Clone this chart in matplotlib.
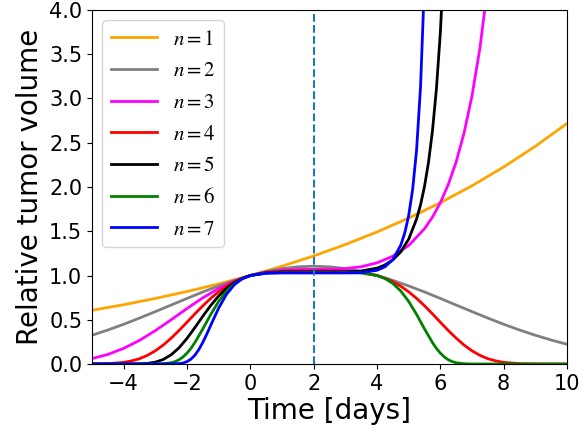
import matplotlib
matplotlib.use("Agg")
import matplotlib.pyplot as plt

plt.rcParams['mathtext.fontset'] = 'stix'

# ---- data ----
labels = ["$n=1$", "$n=2$", "$n=3$", "$n=4$", "$n=5$", "$n=6$", "$n=7$"]
colors = ["orange", "gray", "magenta", "red", "black", "green", "blue"]
x_ticks = [-4, -2, 0, 2, 4, 6, 8, 10]
y_ticks = [0.0, 0.5, 1.0, 1.5, 2.0, 2.5, 3.0, 3.5, 4.0]

t_n1 = [-5, -4, -3, -2, -1, 0, 1, 2, 3, 4, 5, 6, 7, 8, 9, 10]
v_n1 = [0.607, 0.670, 0.741, 0.819, 0.905, 1.000, 1.105, 1.221, 1.350, 1.492,
        1.649, 1.822, 2.014, 2.226, 2.460, 2.718]

t_n2 = [-5, -4.5, -4, -3.5, -3, -2.5, -2, -1.5, -1, -0.5, 0, 0.5, 1, 1.5, 2, 2.5,
        3, 3.5, 4, 4.5, 5, 5.5, 6, 6.5, 7, 7.5, 8, 8.5, 9, 9.5, 10]
v_n2 = [0.325, 0.384, 0.449, 0.519, 0.592, 0.666, 0.741, 0.814, 0.882, 0.945,
        1.000, 1.045, 1.078, 1.098, 1.105, 1.098, 1.078, 1.045, 1.000, 0.945,
        0.882, 0.814, 0.741, 0.666, 0.592, 0.519, 0.449, 0.384, 0.325, 0.271, 0.223]

t_n3 = [-5, -4.5, -4, -3.5, -3, -2.5, -2, -1.5, -1, -0.5, 0, 0.5, 1, 1.5, 2, 2.5,
        3, 3.5, 4, 4.5, 5, 5.5, 5.75, 6, 6.25, 6.5, 6.75, 7, 7.25, 7.5, 7.75]
v_n3 = [0.061, 0.108, 0.177, 0.267, 0.377, 0.500, 0.627, 0.748, 0.854, 0.938,
        1.000, 1.039, 1.060, 1.068, 1.069, 1.070, 1.078, 1.099, 1.143, 1.218,
        1.339, 1.528, 1.659, 1.822, 2.027, 2.284, 2.611, 3.029, 3.570, 4.277, 5.21]

t_n4 = [-5, -4.5, -4, -3.75, -3.5, -3.25, -3, -2.75, -2.5, -2.25, -2, -1.75, -1.5,
        -1.25, -1, -0.75, -0.5, -0.25, 0, 0.5, 1, 1.5, 2, 2.5, 3, 3.5, 4, 4.25,
        4.5, 4.75, 5, 5.25, 5.5, 5.75, 6, 6.25, 6.5, 6.75, 7, 7.25, 7.5, 7.75, 8,
        8.5, 9, 9.5, 10]
v_n4 = [0.001, 0.004, 0.018, 0.035, 0.060, 0.098, 0.149, 0.214, 0.292, 0.379,
        0.472, 0.567, 0.658, 0.742, 0.816, 0.879, 0.930, 0.970, 1.000, 1.035,
        1.048, 1.051, 1.051, 1.051, 1.048, 1.035, 1.000, 0.970, 0.930, 0.879,
        0.816, 0.742, 0.658, 0.567, 0.472, 0.379, 0.292, 0.214, 0.149, 0.098,
        0.060, 0.035, 0.018, 0.004, 0.001, 0.000, 0.000]

t_n5 = [-5, -4, -3.5, -3.25, -3, -2.75, -2.5, -2.25, -2, -1.75, -1.5, -1.25, -1,
        -0.75, -0.5, -0.25, 0, 0.5, 1, 1.5, 2, 2.5, 3, 3.5, 4, 4.25, 4.5, 4.75,
        5, 5.25, 5.375, 5.5, 5.625, 5.75, 5.875, 6, 6.125]
v_n5 = [0.000, 0.000, 0.002, 0.007, 0.021, 0.051, 0.104, 0.184, 0.289, 0.412,
        0.540, 0.662, 0.768, 0.855, 0.921, 0.968, 1.000, 1.031, 1.040, 1.041,
        1.041, 1.041, 1.042, 1.051, 1.083, 1.119, 1.176, 1.267, 1.410, 1.638,
        1.799, 2.007, 2.276, 2.630, 3.102, 3.743, 4.63]

t_n6 = [-5, -3, -2.75, -2.5, -2.375, -2.25, -2.125, -2, -1.875, -1.75, -1.5, -1.25,
        -1, -0.75, -0.5, -0.25, 0, 0.5, 1, 1.5, 2, 2.5, 3, 3.5, 4, 4.25, 4.5, 4.75,
        5, 5.25, 5.5, 5.75, 5.875, 6, 6.125, 6.25, 6.375, 6.5, 6.75, 7, 10]
v_n6 = [0.000, 0.000, 0.003, 0.014, 0.027, 0.048, 0.080, 0.123, 0.177, 0.243,
        0.397, 0.560, 0.707, 0.825, 0.910, 0.966, 1.000, 1.028, 1.033, 1.034,
        1.034, 1.034, 1.033, 1.028, 1.000, 0.966, 0.910, 0.825, 0.707, 0.560,
        0.397, 0.243, 0.177, 0.123, 0.080, 0.048, 0.027, 0.014, 0.003, 0.000, 0.000]

t_n7 = [-5, -2.5, -2.25, -2.125, -2, -1.875, -1.75, -1.625, -1.5, -1.375, -1.25,
        -1, -0.75, -0.5, -0.25, 0, 0.5, 1, 1.5, 2, 2.5, 3, 3.5, 4, 4.25, 4.5,
        4.75, 4.875, 5, 5.125, 5.25, 5.375, 5.5]
v_n7 = [0.000, 0.000, 0.004, 0.011, 0.027, 0.055, 0.100, 0.164, 0.245, 0.338,
        0.438, 0.632, 0.789, 0.898, 0.964, 1.000, 1.025, 1.029, 1.029, 1.029,
        1.029, 1.029, 1.033, 1.059, 1.098, 1.179, 1.342, 1.478, 1.677, 1.970,
        2.419, 3.133, 4.327]

t_marker = 2  # dashed vertical reference line

series_t = [t_n1, t_n2, t_n3, t_n4, t_n5, t_n6, t_n7]
series_v = [v_n1, v_n2, v_n3, v_n4, v_n5, v_n6, v_n7]

fig = plt.figure(figsize=(5.85, 4.36), dpi=100)
ax = fig.add_axes([92 / 585, 1 - 364 / 436, 475 / 585, 354 / 436])

for t, v, c, lab in zip(series_t, series_v, colors, labels):
    ax.plot(t, v, color=c, lw=2, label=lab)

ax.axvline(t_marker, color='#1f77b4', ls='--', lw=1.5)

ax.set_xlim(-5, 10)
ax.set_ylim(0, 4)
ax.set_xticks(x_ticks)
ax.set_yticks(y_ticks)
ax.set_xlabel("Time [days]", fontsize=20, labelpad=2)
ax.set_ylabel("Relative tumor volume", fontsize=20, labelpad=4)
ax.tick_params(labelsize=15)
ax.legend(loc='upper left', fontsize=15, handlelength=2.2, labelspacing=0.56)

fig.savefig("out.png", dpi=100)
